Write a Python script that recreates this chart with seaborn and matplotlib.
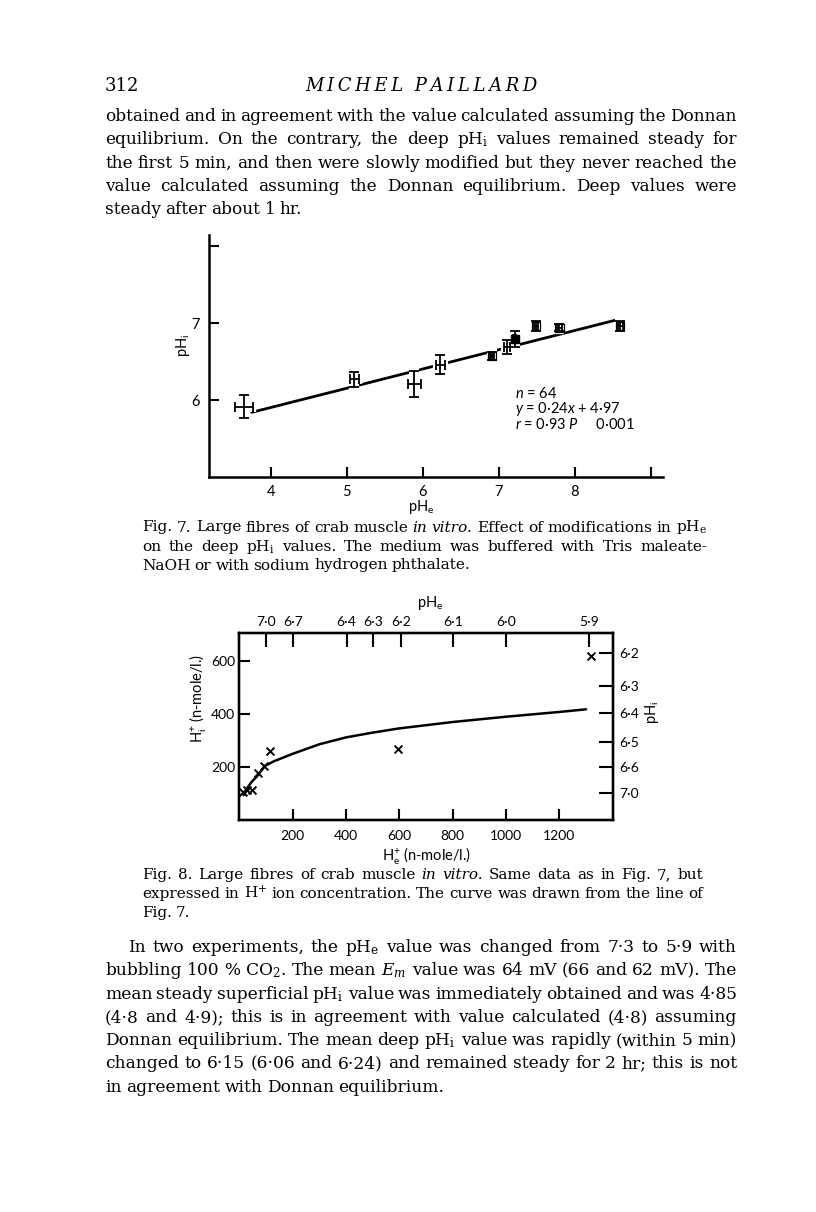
import matplotlib
matplotlib.use("Agg")
import matplotlib.pyplot as plt
import pandas as pd
import seaborn as sns

W, H = 816, 1212

# Fig. 7: deep pHi against pHe (means with error bars)
phe = [3.65, 5.10, 5.89, 6.23, 6.91, 7.11, 7.21, 7.49, 7.80, 8.60]
phi = [5.91, 6.27, 6.21, 6.46, 6.57, 6.69, 6.79, 6.96, 6.94, 6.96]
phe_err = [0.12, 0.06, 0.09, 0.06, 0.03, 0.04, 0.02, 0.03, 0.03, 0.03]
phi_err = [0.15, 0.10, 0.17, 0.12, 0.05, 0.09, 0.10, 0.065, 0.05, 0.06]
symbol = ["bar", "bar", "bar", "bar", "open", "bar", "filled", "open", "open", "open"]
fit_phe = [3.75, 8.55]
fit_phi = [5.84, 7.04]
fig7_xticks = [4, 5, 6, 7, 8, 9]
fig7_xlabels = ["4", "5", "6", "7", "8", ""]
fig7_yticks = [6, 7, 8]
fig7_ylabels = ["6", "7", ""]
stats_lines = [r"$n$ = 64", r"$y$ = 0·24$x$ + 4·97", r"$r$ = 0·93 $P$     0·001"]

# Fig. 8: same data as H+ concentration (n-mole/l.)
he_conc = [12, 28, 47, 70, 91, 116, 596, 1318]
hi_conc = [105, 113, 112, 176, 203, 261, 269, 621]
curve_he = [16, 30, 45, 66, 97, 130, 160, 200, 300, 400, 500, 600, 800, 1000, 1200, 1300]
curve_hi = [94, 122, 143, 165, 205, 222, 234, 250, 286, 312, 330, 346, 370, 390, 408, 418]
fig8_xticks = [200, 400, 600, 800, 1000, 1200]
fig8_yticks = [200, 400, 600]
top_tick_pos = [100, 200, 402, 502, 605, 802, 1000, 1312]
top_tick_lab = ["7·0", "6·7", "6·4", "6·3", "6·2", "6·1", "6·0", "5·9"]
right_tick_pos = [629, 506, 403, 295, 201, 101]
right_tick_lab = ["6·2", "6·3", "6·4", "6·5", "6·6", "7·0"]

para1 = [
    "obtained and in agreement with the value calculated assuming the Donnan",
    r"equilibrium. On the contrary, the deep pH$_{\mathregular{i}}$ values remained steady for",
    "the first 5 min, and then were slowly modified but they never reached the",
    "value calculated assuming the Donnan equilibrium. Deep values were",
    "steady after about 1 hr.",
]
caption7 = [
    r"Fig. 7. Large fibres of crab muscle *in *vitro. Effect of modifications in pH$_{\mathregular{e}}$",
    r"on the deep pH$_{\mathregular{i}}$ values. The medium was buffered with Tris maleate-",
    "NaOH or with sodium hydrogen phthalate.",
]
caption8 = [
    "Fig. 8. Large fibres of crab muscle *in *vitro. Same data as in Fig. 7, but",
    r"expressed in H$^{\mathregular{+}}$ ion concentration. The curve was drawn from the line of",
    "Fig. 7.",
]
para2 = [
    r"In two experiments, the pH$_{\mathregular{e}}$ value was changed from 7·3 to 5·9 with",
    r"bubbling 100 % CO$_{\mathregular{2}}$. The mean *E$_{\mathregular{m}}$ value was 64 mV (66 and 62 mV). The",
    r"mean steady superficial pH$_{\mathregular{i}}$ value was immediately obtained and was 4·85",
    "(4·8 and 4·9); this is in agreement with value calculated (4·8) assuming",
    r"Donnan equilibrium. The mean deep pH$_{\mathregular{i}}$ value was rapidly (within 5 min)",
    "changed to 6·15 (6·06 and 6·24) and remained steady for 2 hr; this is not",
    "in agreement with Donnan equilibrium.",
]

sns.set_theme(style="ticks", rc={
    "axes.edgecolor": "black", "xtick.color": "black", "ytick.color": "black",
    "text.color": "black", "axes.labelcolor": "black",
})
plt.rcParams["font.family"] = ["Lato", "DejaVu Sans"]
plt.rcParams["mathtext.fontset"] = "custom"
plt.rcParams["mathtext.rm"] = "Lato"
plt.rcParams["mathtext.it"] = "Lato:italic"
plt.rcParams["mathtext.bf"] = "Lato:bold"

fig = plt.figure(figsize=(W / 100, H / 100), dpi=100)
fig.patch.set_facecolor("white")


def box(l, t, r, b):
    return [l / W, 1 - b / H, (r - l) / W, (b - t) / H]


def label(x, y, s, **kw):
    kw.setdefault("ha", "center")
    kw.setdefault("va", "center")
    kw.setdefault("fontsize", 10.5)
    return fig.text(x / W, 1 - y / H, s, **kw)


def text_block(lines, x0, x1, y0, step, size, indent=0):
    # lay out justified lines word by word (last line ragged)
    made = []
    for line in lines:
        words = []
        for w in line.split(" "):
            style = "normal"
            if w.startswith("*"):
                w, style = w[1:], "italic"
            words.append(fig.text(0, 0, w, fontsize=size, family="DejaVu Serif",
                                  style=style, ha="left", va="baseline"))
        made.append(words)
    r = fig.canvas.get_renderer()
    space = size * 100 / 72 * 0.27
    factor = 10.0
    for i, words in enumerate(made[:-1]):
        left = x0 + (indent if i == 0 else 0)
        nat = sum(t.get_window_extent(r).width for t in words) + (len(words) - 1) * space
        factor = min(factor, (x1 - left) / nat)
    for words in made:
        for t in words:
            t.set_fontsize(size * factor)
    for i, words in enumerate(made):
        left = x0 + (indent if i == 0 else 0)
        widths = [t.get_window_extent(r).width for t in words]
        if i == len(made) - 1 or len(words) == 1:
            gap = space * factor
        else:
            gap = (x1 - left - sum(widths)) / (len(words) - 1)
        x = left
        y = y0 + i * step
        for t, w in zip(words, widths):
            t.set_position((x / W, 1 - y / H))
            x += w + gap


# page header and text
fig.text(105 / W, 1 - 91 / H, "312", family="DejaVu Serif", fontsize=13,
         ha="left", va="baseline")
fig.text(421 / W, 1 - 91 / H, "\u2009".join("MICHEL") + "  " + "\u2009".join("PAILLARD"),
         family="DejaVu Serif", style="italic", fontsize=13, ha="center", va="baseline")
text_block(para1, 105, 737, 121, 23.3, 12)
text_block(caption7, 142, 707, 531.5, 19, 10)
text_block(caption8, 142, 703, 879, 19, 10)
text_block(para2, 105, 737, 952, 23.3, 12, indent=23)

# ---- Fig. 7 ----
df7 = pd.DataFrame({"phe": phe, "phi": phi, "xerr": phe_err, "yerr": phi_err, "symbol": symbol})
ax7 = fig.add_axes(box(209, 235, 663, 477))
ax7.set_facecolor("none")
sns.lineplot(x=fit_phe, y=fit_phi, ax=ax7, color="black", lw=2.0, zorder=2)
# white underlay so the bars break the fitted line, as in the print
ax7.errorbar(df7["phe"], df7["phi"], xerr=df7["xerr"], yerr=df7["yerr"], fmt="none",
             ecolor="white", elinewidth=4.5, capsize=3.6, capthick=4.5, zorder=2.5)
ax7.errorbar(df7["phe"], df7["phi"], xerr=df7["xerr"], yerr=df7["yerr"], fmt="none",
             ecolor="black", elinewidth=1.3, capsize=3.3, capthick=1.3, zorder=3)
opn = df7[df7["symbol"] == "open"]
ax7.scatter(opn["phe"], opn["phi"], marker="s", s=34, facecolors="none",
            edgecolors="black", linewidths=0.9, zorder=4)
fil = df7[df7["symbol"] == "filled"]
ax7.scatter(fil["phe"], fil["phi"], marker="s", s=30, color="black", zorder=4)
ax7.set_xlim(3.188, 9.162)
ax7.set_ylim(5.0, 8.143)
ax7.set_xticks(fig7_xticks, fig7_xlabels)
ax7.set_yticks(fig7_yticks, fig7_ylabels)
ax7.tick_params(direction="in", length=7, width=1.5, labelsize=10.5)
ax7.tick_params(axis="x", pad=6)
ax7.tick_params(axis="y", pad=7)
sns.despine(ax=ax7)
for s in ["left", "bottom"]:
    ax7.spines[s].set_linewidth(1.8)
ax7.set_xlabel("")
ax7.set_ylabel("")
label(421, 507, r"pH$_{\mathregular{e}}$")
label(183, 345, r"pH$_{\mathregular{i}}$", rotation=90)
for i, s in enumerate(stats_lines):
    label(515, 394 + i * 15.5, s, ha="left", fontsize=10.5)

# ---- Fig. 8 ----
ax8 = fig.add_axes(box(239.4, 633.3, 612.7, 820))
ax8.set_facecolor("none")
sns.lineplot(x=curve_he, y=curve_hi, ax=ax8, color="black", lw=1.8)
sns.scatterplot(x=he_conc, y=hi_conc, ax=ax8, marker="x", color="black", s=32, linewidth=1.4)
ax8.set_xlim(0, 1400)
ax8.set_ylim(0, 705)
ax8.set_xticks(fig8_xticks)
ax8.set_yticks(fig8_yticks)
ax8.tick_params(direction="in", length=8, width=1.5, labelsize=10)
ax8.tick_params(axis="x", pad=7)
ax8.tick_params(axis="y", pad=3)

top = ax8.twiny()
top.set_xlim(0, 1400)
top.set_xticks(top_tick_pos, top_tick_lab)
top.tick_params(direction="in", length=10, width=1.5, labelsize=10, pad=4)

right = ax8.twinx()
right.set_ylim(0, 705)
right.set_yticks(right_tick_pos, right_tick_lab)
right.tick_params(direction="in", length=10, width=1.5, labelsize=10, pad=5)

for a in (ax8, top, right):
    for s in a.spines.values():
        s.set_linewidth(1.6)
    a.grid(False)

label(430, 603, r"pH$_{\mathregular{e}}$")
label(197, 698, r"H$^{\mathregular{+}}_{\mathregular{i}}$ (n-mole/l.)", rotation=90)
label(652, 712, r"pH$_{\mathregular{i}}$", rotation=90)
label(427, 855, r"H$^{\mathregular{+}}_{\mathregular{e}}$ (n-mole/l.)")

fig.savefig("out.png", dpi=100, facecolor="white")
